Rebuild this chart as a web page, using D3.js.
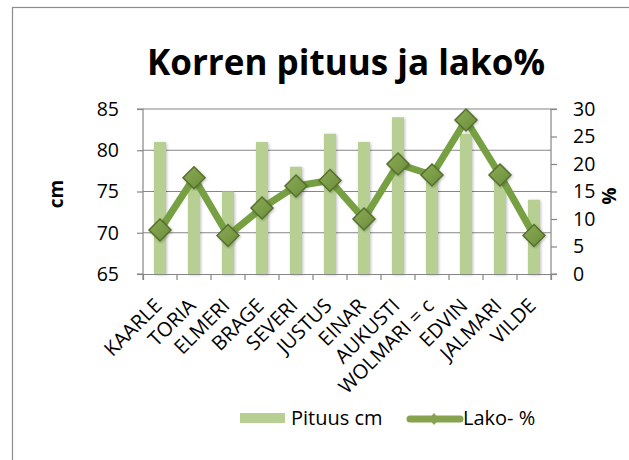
<!DOCTYPE html>
<html><head><meta charset="utf-8">
<script src="https://cdn.jsdelivr.net/npm/d3@7"></script>
<style>body{margin:0;background:#fff}svg{display:block}text{font-family:"Open Sans","Noto Sans",sans-serif;fill:#000}</style>
</head><body>
<svg id="c" width="629" height="460"></svg>
<script>
const categories = ["KAARLE","TORIA","ELMERI","BRAGE","SEVERI","JUSTUS","EINAR","AUKUSTI","WOLMARI = c","EDVIN","JALMARI","VILDE"];
const pituus = [81,77,75,81,78,82,81,84,77,82,77,74];
const lako = [8,17.5,7,12,16,17,10,20,18,28,18,7];
const leftTicks = [65,70,75,80,85];
const rightTicks = [0,5,10,15,20,25,30];

const svg = d3.select("#c");
const m = {l:143, r:551, t:109, b:274};
svg.append("rect").attr("x",12.5).attr("y",7.5).attr("width",640).attr("height",480).attr("fill","none").attr("stroke","#8c8c8c").attr("stroke-width",1.2);

const x = d3.scaleBand().domain(categories).range([m.l,m.r]);
const yL = d3.scaleLinear().domain([65,85]).range([m.b,m.t]);
const yR = d3.scaleLinear().domain([0,30]).range([m.b,m.t]);

svg.append("g").selectAll("line").data(leftTicks.slice(1)).join("line")
  .attr("x1",m.l).attr("x2",m.r).attr("y1",d=>yL(d)).attr("y2",d=>yL(d))
  .attr("stroke","#868686").attr("stroke-width",1.2);

const defs = svg.append("defs");
const f = defs.append("filter").attr("id","sh").attr("x","-50%").attr("y","-10%").attr("width","200%").attr("height","120%");
f.append("feGaussianBlur").attr("in","SourceAlpha").attr("stdDeviation",1.5).attr("result","b");
f.append("feOffset").attr("in","b").attr("dx",1).attr("dy",1).attr("result","o");
f.append("feComponentTransfer").attr("in","o").attr("result","o2").append("feFuncA").attr("type","linear").attr("slope",0.25);
const mg = f.append("feMerge"); mg.append("feMergeNode").attr("in","o2"); mg.append("feMergeNode").attr("in","SourceGraphic");
const bw = 12;
svg.append("g").selectAll("rect").data(categories).join("rect")
  .attr("x",(d)=>x(d)+x.bandwidth()/2-bw/2).attr("width",bw)
  .attr("y",(d,i)=>yL(pituus[i])).attr("height",(d,i)=>m.b-yL(pituus[i]))
  .attr("fill","#b7cf93").attr("filter","url(#sh)");

const axL = d3.axisLeft(yL).tickValues(leftTicks).tickSize(6).tickPadding(18);
const gL = svg.append("g").attr("transform",`translate(${m.l},0)`).call(axL);
const axR = d3.axisRight(yR).tickValues(rightTicks).tickSize(6).tickPadding(16);
const gR = svg.append("g").attr("transform",`translate(${m.r},0)`).call(axR);
const axB = d3.axisBottom(x).tickSize(6).tickFormat("").tickSizeOuter(6);
const gB = svg.append("g").attr("transform",`translate(0,${m.b})`).call(axB);
gB.selectAll(".tick").remove();
svg.append("g").selectAll("line").data(d3.range(categories.length+1)).join("line")
  .attr("x1",i=>m.l+i*x.step()).attr("x2",i=>m.l+i*x.step()).attr("y1",m.b).attr("y2",m.b+6)
  .attr("stroke","#868686").attr("stroke-width",1.2);
[gL,gR,gB].forEach(g=>{
  g.selectAll("path,line").attr("stroke","#868686").attr("stroke-width",1.2);
  g.selectAll("text").attr("font-size",19.5).attr("font-family","'Open Sans',sans-serif").attr("fill","#000");
});
gR.select(".domain").attr("d",`M6,${m.t}H0V${m.b}H6`);
gL.select(".domain").attr("d",`M-6,${m.t}H0V${m.b}H-6`);

svg.append("g").selectAll("text").data(categories).join("text")
  .attr("transform",d=>`translate(${x(d)+x.bandwidth()/2+3},${m.b+33}) rotate(-45)`)
  .attr("text-anchor","end").attr("font-size",20).text(d=>d);

const cx = d=>x(d)+x.bandwidth()/2;
svg.append("path").datum(categories)
  .attr("d",d3.line().x(cx).y((d,i)=>yR(lako[i])))
  .attr("fill","none").attr("stroke","#77a043").attr("stroke-width",7).attr("stroke-linejoin","round");
const gr = defs.append("linearGradient").attr("id","mk").attr("x1",0).attr("y1",0).attr("x2",1).attr("y2",1);
gr.append("stop").attr("offset",0).attr("stop-color","#8cad55");
gr.append("stop").attr("offset",1).attr("stop-color","#6b8c3a");
const s = 11;
svg.append("g").selectAll("path").data(categories).join("path")
  .attr("transform",(d,i)=>`translate(${cx(d)},${yR(lako[i])})`)
  .attr("d",`M0,${-s}L${s},0L0,${s}L${-s},0Z`)
  .attr("fill","url(#mk)").attr("stroke","#56702e").attr("stroke-width",1.5).attr("filter","url(#sh)");

const t = svg.append("text").attr("x",346).attr("y",75).attr("text-anchor","middle")
  .attr("font-size",35).attr("font-weight","bold").text("Korren pituus ja lako%");
t.attr("textLength",398).attr("lengthAdjust","spacingAndGlyphs");

svg.append("text").attr("transform","translate(63,194) rotate(-90)").attr("text-anchor","middle")
  .attr("font-size",19).attr("font-weight","bold").text("cm");
svg.append("text").attr("transform","translate(602,196) rotate(90)").attr("text-anchor","middle")
  .attr("font-size",19).attr("font-weight","bold").text("%");

svg.append("rect").attr("x",240).attr("y",413).attr("width",45).attr("height",10).attr("fill","#b7cf93");
svg.append("text").attr("x",291).attr("y",425).attr("font-size",20).text("Pituus cm");
svg.append("line").attr("x1",410).attr("x2",460).attr("y1",419).attr("y2",419).attr("stroke","#87a34f").attr("stroke-width",7).attr("stroke-linecap","round");
svg.append("path").attr("transform","translate(434,419)").attr("d","M0,-6L5,0L0,6L-5,0Z").attr("fill","#87a34f");
svg.append("text").attr("x",463).attr("y",425).attr("font-size",20).text("Lako- %");
</script>
</body></html>
